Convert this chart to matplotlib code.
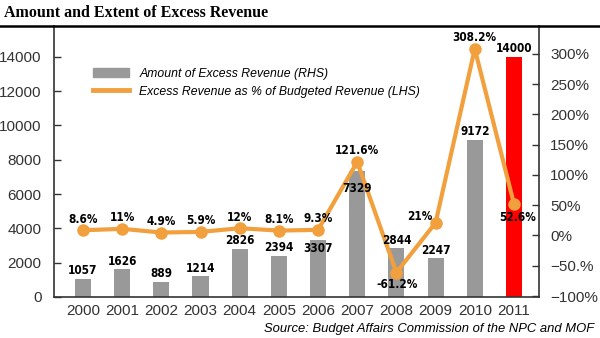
import matplotlib
matplotlib.use("Agg")
import matplotlib.pyplot as plt
from matplotlib.lines import Line2D
from matplotlib.ticker import FixedLocator, FixedFormatter
import numpy as np

years = ["2000", "2001", "2002", "2003", "2004", "2005",
         "2006", "2007", "2008", "2009", "2010", "2011"]
excess_amount = [1057, 1626, 889, 1214, 2826, 2394, 3307, 7329, 2844, 2247, 9172, 14000]
excess_pct = [8.6, 11, 4.9, 5.9, 12, 8.1, 9.3, 121.6, -61.2, 21, 308.2, 52.6]
pct_labels = ["8.6%", "11%", "4.9%", "5.9%", "12%", "8.1%", "9.3%",
              "121.6%", "-61.2%", "21%", "308.2%", "52.6%"]
pct_ticks = [-100, -50, 0, 50, 100, 150, 200, 250, 300]
pct_tick_labels = ["\u2212100%", "\u221250.%", "0%", "50%", "100%", "150%",
                   "200%", "250%", "300%"]

gray = "#999999"
orange = "#F2A03D"
plt.rcParams["font.family"] = ["Liberation Sans", "DejaVu Sans"]
value_style = dict(family="DejaVu Sans", fontstretch="condensed", fontweight="bold",
                   fontsize=8.5, ha="center", va="center", zorder=6)

fig = plt.figure(figsize=(6.0, 3.38), dpi=100)
ax = fig.add_axes([54 / 600, 41 / 338, 485 / 600, 271 / 338])
ax2 = ax.twinx()

x = np.arange(len(years))
bar_colors = [gray] * (len(years) - 1) + ["#FF0000"]
bars = ax.bar(x, excess_amount, width=0.41, color=bar_colors, zorder=2)
ax2.plot(x, excess_pct, color=orange, lw=3, marker="o", ms=8, zorder=3)

ax.set_xlim(-0.74, 11.64)
ax.set_ylim(0, 15800)
ax2.set_ylim(-101.6, 346)
ax.set_yticks(np.arange(0, 14001, 2000))
ax.set_xticks(x)
ax.set_xticklabels(years)

ax2.yaxis.set_major_locator(FixedLocator(pct_ticks))
ax2.yaxis.set_major_formatter(FixedFormatter(pct_tick_labels))

for a in (ax, ax2):
    a.spines["top"].set_visible(False)
    for s in ("left", "right", "bottom"):
        a.spines[s].set_color("#333333")
        a.spines[s].set_linewidth(1.2)
ax.spines["right"].set_visible(False)
ax2.spines["left"].set_visible(False)
ax2.spines["bottom"].set_visible(False)

ax.tick_params(axis="y", direction="in", length=5, width=1, colors="#333333",
               labelsize=11, pad=9, labelcolor="#333333")
ax.tick_params(axis="x", length=0, labelsize=11, pad=5, labelcolor="#333333")
ax2.tick_params(axis="y", direction="in", length=5, width=1, colors="#333333",
                labelsize=11, pad=8, labelcolor="#333333")

# value labels sit on ax2 so they are drawn over the line;
# offsets are pixels from the bar top / marker centre
bar_offsets = {6: -8, 7: -17}
for i, v in enumerate(excess_amount):
    dy = bar_offsets.get(i, 8)
    ax2.annotate(str(v), (x[i], v), xycoords=ax.transData, xytext=(0, dy),
                 textcoords="offset pixels", **value_style)

pct_offsets = {8: (1, -12), 9: (-16, 6), 11: (4, -14)}
for i, v in enumerate(excess_pct):
    dx, dy = pct_offsets.get(i, (0, 11))
    ax2.annotate(pct_labels[i], (x[i], v), xytext=(dx, dy),
                 textcoords="offset pixels", **value_style)

legend_handles = [plt.Rectangle((0, 0), 1, 1, color=gray),
                  Line2D([], [], color=orange, lw=3.5)]
ax2.legend(legend_handles,
           ["Amount of Excess Revenue (RHS)",
            "Excess Revenue as % of Budgeted Revenue (LHS)"],
           loc="upper left", bbox_to_anchor=(0.08, 0.845), frameon=False,
           prop={"style": "italic", "size": 8.8}, handlelength=3.0,
           handletextpad=0.8, borderpad=0, borderaxespad=0, labelspacing=0.45)

# title with rule underneath
fig.text(4 / 600, 1 - 13 / 338, "Amount and Extent of Excess Revenue",
         family=["Liberation Serif", "DejaVu Serif"], fontweight="bold",
         fontsize=11.5, va="center", ha="left")
fig.add_artist(Line2D([0, 1], [1 - 25.5 / 338] * 2, color="black", lw=1.8))

fig.text(594 / 600, 1 - 329 / 338,
         "Source: Budget Affairs Commission of the NPC and MOF",
         style="italic", fontsize=9.4, ha="right", va="center")

fig.savefig("out.png", dpi=100)
